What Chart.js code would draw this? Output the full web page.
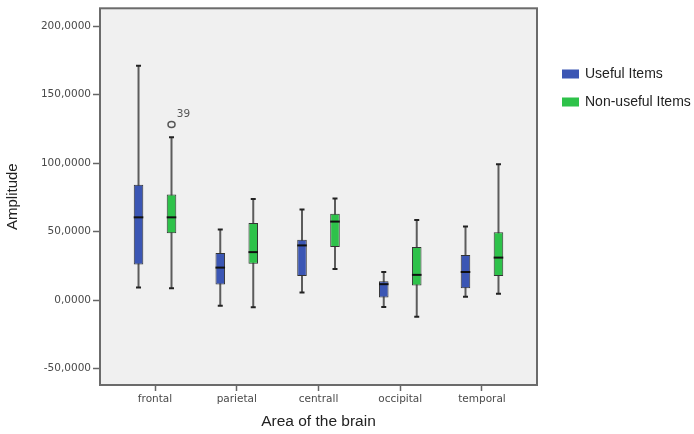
<!DOCTYPE html>
<html>
<head>
<meta charset="utf-8">
<title>Amplitude by area of the brain</title>
<script src="https://cdn.jsdelivr.net/npm/chart.js@4.4.0/dist/chart.umd.min.js"></script>
<style>
  html, body { margin: 0; padding: 0; background: #fff; }
</style>
</head>
<body>
<canvas id="box" width="694" height="434"></canvas>
<script>
const areas = ["frontal", "parietal", "centrall", "occipital", "temporal"];
const yTicks = [-50, 0, 50, 100, 150, 200];

// five-number summaries, one entry per area
const usefulMin = [9.2, -4.1, 5.6, -5.1, 2.4];
const usefulQ1 = [25.9, 11.4, 17.6, 1.9, 8.7];
const usefulMed = [60.4, 23.7, 39.9, 11.6, 20.5];
const usefulQ3 = [84.1, 34.3, 44.0, 13.8, 32.9];
const usefulMax = [171.1, 51.5, 66.2, 20.5, 53.7];

const nonUsefulMin = [8.7, -5.3, 22.7, -12.1, 4.6];
const nonUsefulQ1 = [48.8, 26.6, 38.7, 10.6, 17.6];
const nonUsefulMed = [60.4, 35.0, 57.3, 18.4, 31.0];
const nonUsefulQ3 = [77.1, 56.3, 63.1, 38.7, 49.5];
const nonUsefulMax = [118.9, 73.7, 74.2, 58.5, 99.1];

// outlying cases
const outlierSeries = [1];
const outlierArea = [0];
const outlierValue = [128.1];
const outlierCase = ["39"];

const series = [
  { label: "Useful Items", color: "#3b56b4", lo: usefulMin, q1: usefulQ1, med: usefulMed, q3: usefulQ3, hi: usefulMax },
  { label: "Non-useful Items", color: "#2ec24a", lo: nonUsefulMin, q1: nonUsefulQ1, med: nonUsefulMed, q3: nonUsefulQ3, hi: nonUsefulMax },
];

const fmt = v => Number(v).toFixed(4).replace(".", ",");

// whiskers, medians, outliers, frame and legend around the floating bars
const boxParts = {
  id: "boxParts",
  beforeDraw(chart) {
    const { ctx, chartArea: a } = chart;
    ctx.save();
    ctx.fillStyle = "#f0f0f0";
    ctx.fillRect(a.left, a.top, a.right - a.left, a.bottom - a.top);
    ctx.restore();
  },
  beforeDatasetsDraw(chart) {
    const { ctx, scales: { y } } = chart;
    ctx.save();
    series.forEach((s, d) => {
      chart.getDatasetMeta(d).data.forEach((bar, i) => {
        const top = y.getPixelForValue(s.hi[i]);
        const bot = y.getPixelForValue(s.lo[i]);
        ctx.strokeStyle = "#5c5c5c";
        ctx.lineWidth = 2;
        ctx.beginPath();
        ctx.moveTo(bar.x, top);
        ctx.lineTo(bar.x, bot);
        ctx.stroke();
        ctx.strokeStyle = "#222";
        ctx.beginPath();
        ctx.moveTo(bar.x - 2.5, top);
        ctx.lineTo(bar.x + 2.5, top);
        ctx.moveTo(bar.x - 2.5, bot);
        ctx.lineTo(bar.x + 2.5, bot);
        ctx.stroke();
      });
    });
    ctx.restore();
  },
  afterDatasetsDraw(chart) {
    const { ctx, chartArea: a, scales: { y } } = chart;
    ctx.save();
    series.forEach((s, d) => {
      chart.getDatasetMeta(d).data.forEach((bar, i) => {
        const m = y.getPixelForValue(s.med[i]);
        ctx.strokeStyle = "#111";
        ctx.lineWidth = 2;
        ctx.beginPath();
        ctx.moveTo(bar.x - bar.width / 2, m);
        ctx.lineTo(bar.x + bar.width / 2, m);
        ctx.stroke();
      });
    });

    outlierValue.forEach((v, k) => {
      const bar = chart.getDatasetMeta(outlierSeries[k]).data[outlierArea[k]];
      const py = y.getPixelForValue(v);
      ctx.strokeStyle = "#555";
      ctx.lineWidth = 1.5;
      ctx.beginPath();
      ctx.ellipse(bar.x, py, 3.5, 3, 0, 0, Math.PI * 2);
      ctx.stroke();
      ctx.fillStyle = "#555";
      ctx.font = "10.5px 'DejaVu Sans'";
      ctx.textAlign = "center";
      ctx.textBaseline = "middle";
      ctx.fillText(outlierCase[k], bar.x + 12, py - 10);
    });

    ctx.strokeStyle = "#6b6b6b";
    ctx.lineWidth = 2;
    ctx.strokeRect(a.left, a.top, a.right - a.left, a.bottom - a.top);
    ctx.restore();
  },
  afterDraw(chart) {
    const { ctx, chartArea: a } = chart;
    ctx.save();
    ctx.font = "14px 'Liberation Sans'";
    ctx.textBaseline = "middle";
    ctx.textAlign = "left";
    chart.data.datasets.forEach((ds, d) => {
      const rowY = 74 + d * 28;
      ctx.fillStyle = ds.backgroundColor;
      ctx.fillRect(a.right + 25, rowY - 4.5, 17, 9);
      ctx.fillStyle = "#222";
      ctx.fillText(ds.label, a.right + 48, rowY);
    });
    ctx.restore();
  },
};

new Chart(document.getElementById("box"), {
  type: "bar",
  data: {
    datasets: series.map(s => ({
      label: s.label,
      data: areas.map((a, i) => ({ x: i, y: [s.q1[i], s.q3[i]] })),
      backgroundColor: s.color,
      borderColor: "#333",
      borderWidth: 1,
      borderSkipped: false,
      categoryPercentage: 0.807,
      barPercentage: 0.29,
    })),
  },
  options: {
    responsive: false,
    animation: false,
    devicePixelRatio: 1,
    layout: { padding: { top: 6, right: 157, left: 0, bottom: 0 } },
    plugins: { legend: { display: false }, tooltip: { enabled: false } },
    scales: {
      x: {
        type: "linear",
        min: -0.673,
        max: 4.673,
        offset: false,
        afterBuildTicks: s => { s.ticks = areas.map((a, i) => ({ value: i })); },
        afterFit: s => { s.height = 49; },
        ticks: {
          callback: v => areas[v] ?? "",
          autoSkip: false,
          maxRotation: 0,
          padding: 2,
          color: "#4a4a4a",
          font: { family: "DejaVu Sans", size: 10.5 },
        },
        grid: { drawOnChartArea: false, offset: false, tickLength: 6, color: "#666", tickWidth: 1.5 },
        border: { display: false },
        title: {
          display: true,
          text: "Area of the brain",
          color: "#222",
          font: { family: "Liberation Sans", size: 15.5 },
          padding: { top: 0, bottom: 3 },
        },
      },
      y: {
        min: -62,
        max: 213,
        afterBuildTicks: s => { s.ticks = yTicks.map(v => ({ value: v })); },
        afterFit: s => { s.width = 100; },
        ticks: {
          callback: v => fmt(v),
          padding: 2,
          color: "#4a4a4a",
          font: { family: "DejaVu Sans", size: 10.5 },
        },
        grid: { drawOnChartArea: false, tickLength: 7, color: "#666", tickWidth: 1.5 },
        border: { display: false },
        title: {
          display: true,
          text: "Amplitude",
          color: "#222",
          font: { family: "Liberation Sans", size: 15 },
          padding: { top: 4, bottom: 0 },
        },
      },
    },
  },
  plugins: [boxParts],
});
</script>
</body>
</html>
